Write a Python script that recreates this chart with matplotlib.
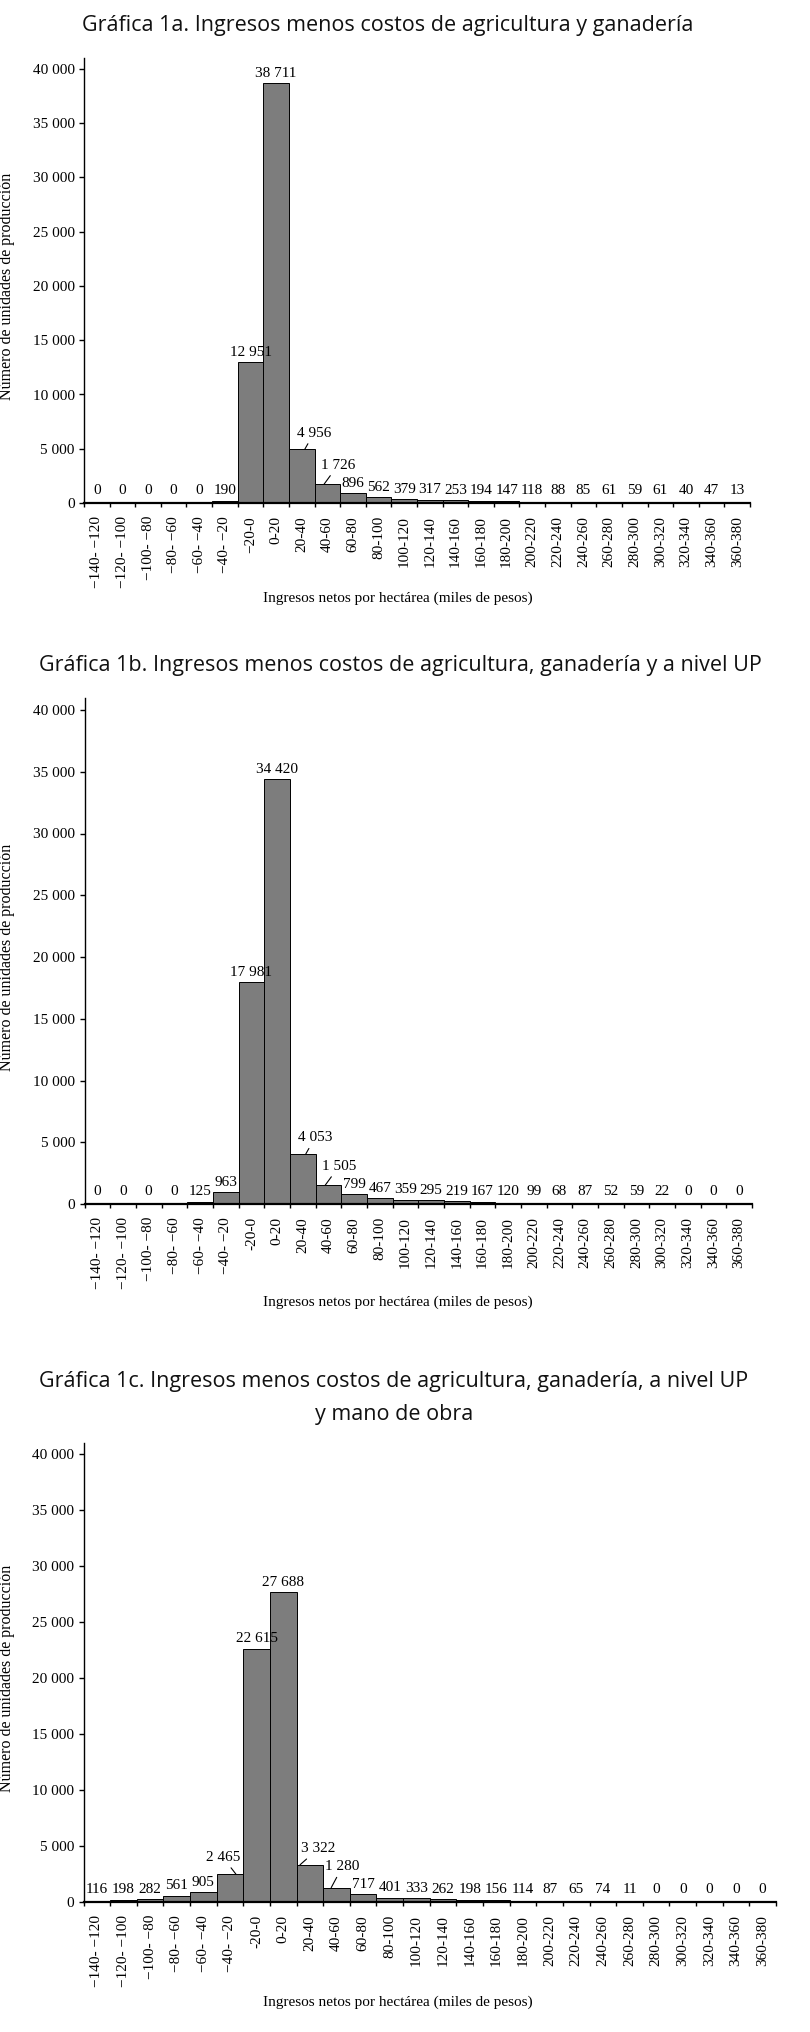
import numpy as np
import matplotlib.pyplot as plt
from matplotlib.ticker import FuncFormatter

# bins (miles de pesos por hectárea)
labels_a = ['−140- −120', '−120- −100', '−100- −80', '−80- −60', '−60- −40', '−40- −20',
            '−20-0', '0-20', '20-40', '40-60', '60-80', '80-100', '100-120', '120-140',
            '140-160', '160-180', '180-200', '200-220', '220-240', '240-260', '260-280',
            '280-300', '300-320', '320-340', '340-360', '360-380']
labels_bc = ['−140- −120', '−120- −100', '−100- −80', '−80- −60', '−60- −40', '−40- −20',
             '-20-0', '0-20', '20-40', '40-60', '60-80', '80-100', '100-120', '120-140',
             '140-160', '160-180', '180-200', '200-220', '220-240', '240-260', '260-280',
             '280-300', '300-320', '320-340', '340-360', '360-380']

vals_a = [0, 0, 0, 0, 0, 190, 12951, 38711, 4956, 1726, 896, 562, 379, 317, 253, 194,
          147, 118, 88, 85, 61, 59, 61, 40, 47, 13]
vals_b = [0, 0, 0, 0, 125, 963, 17981, 34420, 4053, 1505, 799, 467, 359, 295, 219, 167,
          120, 99, 68, 87, 52, 59, 22, 0, 0, 0]
vals_c = [116, 198, 282, 561, 905, 2465, 22615, 27688, 3322, 1280, 717, 401, 333, 262,
          198, 156, 114, 87, 65, 74, 11, 0, 0, 0, 0, 0]

titles = ['Gráfica 1a. Ingresos menos costos de agricultura y ganadería',
          'Gráfica 1b. Ingresos menos costos de agricultura, ganadería y a nivel UP',
          'Gráfica 1c. Ingresos menos costos de agricultura, ganadería, a nivel UP\ny mano de obra']
xlabel = 'Ingresos netos por hectárea (miles de pesos)'
ylabel = 'Número de unidades de producción'

SANS = ['Open Sans', 'DejaVu Sans']
SERIF = ['Liberation Serif', 'DejaVu Serif']
plt.rcParams['font.family'] = SERIF

W, H = 810, 2032
fig = plt.figure(figsize=(W / 100, H / 100), dpi=100)

# layout in pixels: left, right, y of 0, y of 40000, title y, title x, xlabel y
panels = [
    dict(vals=vals_a, labels=labels_a, box=(84, 750, 503, 69), ty=25, tx=388, xly=598,
         leaders={8: (0.12, 6.5, 11.5), 9: (-0.13, 10, 13.7)}),
    dict(vals=vals_b, labels=labels_bc, box=(84.5, 752, 1204, 710), ty=665, tx=400, xly=1302,
         leaders={8: (0.12, 6.5, 11.5), 9: (-0.13, 10, 13.7)}),
    dict(vals=vals_c, labels=labels_bc, box=(83.5, 776, 1902, 1454), ty=1398, tx=394, xly=2002,
         leaders={5: (0.23, -9.4, 12.2), 8: (-0.37, 13, 11.5), 9: (-0.2, 8, 15)}),
]

fmt = lambda v, pos: f'{int(v):,}'.replace(',', ' ')

for p, title in zip(panels, titles):
    left, right, y0, y40 = p['box']
    ytop = 41000
    top = y0 - (y0 - y40) * ytop / 40000
    ax = fig.add_axes([left / W, 1 - y0 / H, (right - left) / W, (y0 - top) / H])
    vals = p['vals']
    x = np.arange(len(vals))
    ax.bar(x, vals, width=1.0, color='#7d7d7d', edgecolor='black', linewidth=0.7)
    ax.set_xlim(-0.5, len(vals) - 0.5)
    ax.set_ylim(0, ytop)

    ax.set_yticks(np.arange(0, 40001, 5000))
    ax.yaxis.set_major_formatter(FuncFormatter(fmt))
    ax.tick_params(axis='y', length=3.6, width=1, pad=3, labelsize=11)
    ax.set_xticks(x)
    ax.set_xticklabels(p['labels'], rotation=90, fontsize=11)
    ax.tick_params(axis='x', which='major', length=0, pad=9.4)
    ax.set_xticks(np.arange(len(vals) + 1) - 0.5, minor=True)
    ax.tick_params(axis='x', which='minor', length=3, width=1)

    for s in ['top', 'right']:
        ax.spines[s].set_visible(False)
    ax.spines['left'].set_linewidth(1.0)
    ax.spines['bottom'].set_linewidth(1.6)

    ax.set_ylabel(ylabel, fontsize=11.5)
    ax.yaxis.set_label_coords((15.5 - left) / (right - left), 20000 / ytop)

    floor = 260
    for i, v in enumerate(vals):
        txt = fmt(v, None)
        if i in p['leaders']:
            dx, ox, oy = p['leaders'][i]
            ax.annotate(txt, xy=(i + dx, v), xytext=(ox, oy), textcoords='offset points',
                        ha='center', va='center', fontsize=11,
                        arrowprops=dict(arrowstyle='-', color='black', lw=0.8,
                                        shrinkA=1, shrinkB=0))
        else:
            ax.annotate(txt, xy=(i, max(v, floor)), xytext=(0, 4.5),
                        textcoords='offset points', ha='center', va='baseline', fontsize=11)

    fig.text(p['tx'] / W, 1 - p['ty'] / H, title, ha='center', va='center',
             family=SANS, fontsize=15.5, linespacing=1.7, color='#111111')
    fig.text(398 / W, 1 - p['xly'] / H, xlabel, ha='center', va='center', fontsize=11)

fig.savefig('out.png', dpi=100)
